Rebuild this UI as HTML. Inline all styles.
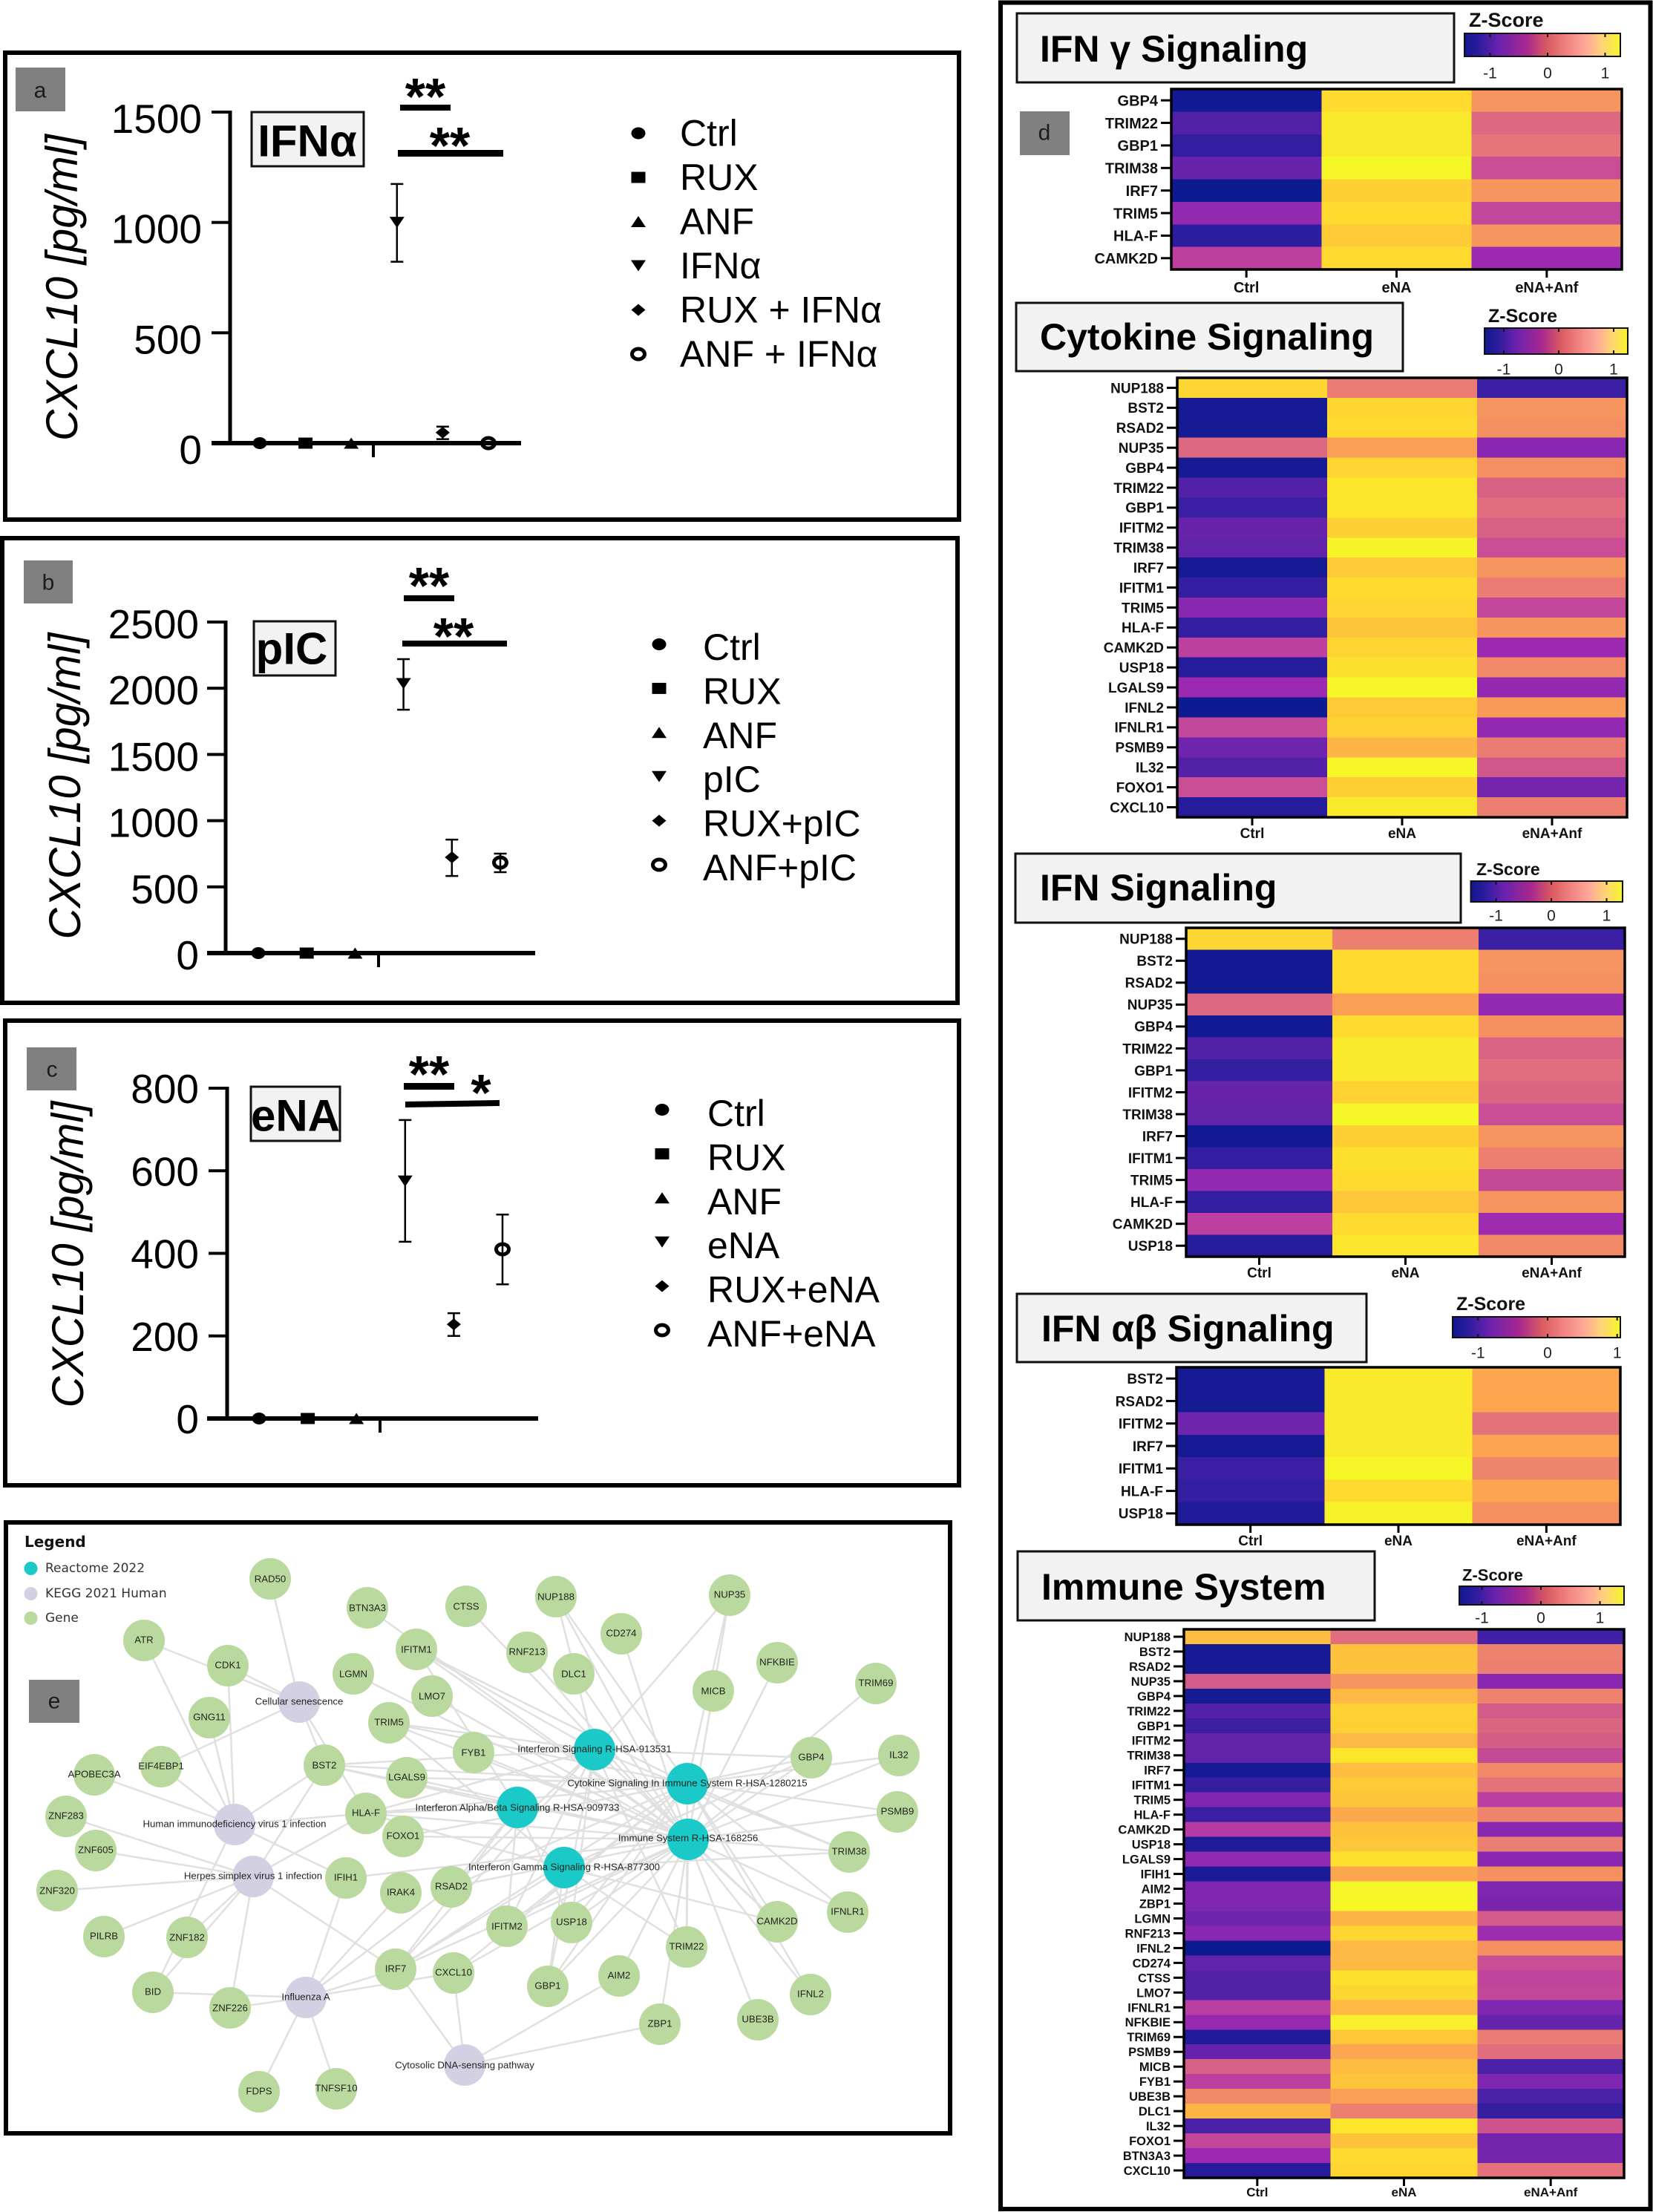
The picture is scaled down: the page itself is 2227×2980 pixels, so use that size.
<!DOCTYPE html>
<html lang="en">
<head>
<meta charset="utf-8">
<title>CXCL10 response, pathway heatmaps and enrichment network</title>
<style>
html,body{margin:0;padding:0;background:#fff;}
svg{display:block;font-family:"Liberation Sans",Arial,sans-serif;}
.frame{fill:none;stroke:#000;stroke-width:6;}
.letter-box{fill:#808080;}
.letter{font-size:30px;fill:#1c1c1c;text-anchor:middle;dominant-baseline:central;}
.title-box{fill:#f2f2f2;stroke:#111;stroke-width:3;}
.chart-title{font-size:60px;font-weight:bold;text-anchor:middle;dominant-baseline:central;fill:#000;}
.hm-title{font-weight:bold;fill:#000;font-size:50px;}
.stars{font-size:70px;font-weight:bold;text-anchor:middle;fill:#000;}
.zscore{font-weight:bold;font-size:26px;fill:#111;}
.gene circle{fill:#b9d99e;}
.kegg circle{fill:#d3d0e4;}
.reactome circle{fill:#1cc9c9;}
.node text{font-size:13.2px;fill:#1f241d;text-anchor:middle;dominant-baseline:central;}
.legend-text{font-family:"DejaVu Sans",sans-serif;font-size:17px;fill:#333;dominant-baseline:central;}
</style>
</head>
<body>
<svg id="figure" xmlns="http://www.w3.org/2000/svg" width="2227" height="2980" viewBox="0 0 2227 2980">
<defs>
<linearGradient id="zscore-gradient">
<stop offset="0" stop-color="#10198f"/>
<stop offset="0.1" stop-color="#2f1c9e"/>
<stop offset="0.22" stop-color="#6a22ae"/>
<stop offset="0.4" stop-color="#a8288f"/>
<stop offset="0.53" stop-color="#d85a60"/>
<stop offset="0.65" stop-color="#f08080"/>
<stop offset="0.78" stop-color="#ffa898"/>
<stop offset="0.88" stop-color="#ffd27a"/>
<stop offset="1" stop-color="#f5f52a"/>
</linearGradient>
</defs>
<rect x="0" y="0" width="2227" height="2980" fill="#fff"/>

<!-- Panel a -->
<g id="panel-a">
<rect class="frame" x="7" y="71" width="1285" height="629"/>
<rect class="letter-box" x="21" y="91" width="67" height="59"/>
<text class="letter" x="54" y="122">a</text>
<rect class="title-box" x="339" y="151" width="151" height="73"/>
<text class="chart-title" x="414" y="190">IFNα</text>
<rect x="539" y="141" width="68" height="8" fill="#000"/>
<rect x="536" y="202" width="142" height="9" fill="#000"/>
<text class="stars" x="573" y="154">**</text>
<text class="stars" x="606" y="220">**</text>
</g>

<!-- Panel b -->
<g id="panel-b">
<rect class="frame" x="3" y="725" width="1287" height="626"/>
<rect class="letter-box" x="32" y="755" width="66" height="58"/>
<text class="letter" x="65" y="785">b</text>
<rect class="title-box" x="342" y="837" width="110" height="73"/>
<text class="chart-title" x="393" y="874">pIC</text>
<rect x="544" y="802" width="68" height="8" fill="#000"/>
<rect x="542" y="863" width="141" height="8" fill="#000"/>
<text class="stars" x="578" y="813">**</text>
<text class="stars" x="611" y="881">**</text>
</g>

<!-- Panel c -->
<g id="panel-c">
<rect class="frame" x="7" y="1375" width="1285" height="626"/>
<rect class="letter-box" x="36" y="1411" width="67" height="58"/>
<text class="letter" x="70" y="1441">c</text>
<rect class="title-box" x="338" y="1464" width="120" height="73"/>
<text class="chart-title" x="398" y="1503">eNA</text>
<rect x="544" y="1459" width="68" height="9" fill="#000"/>
<polygon points="546,1484 673,1482 673,1490 546,1492" fill="#000"/>
<text class="stars" x="578" y="1471">**</text>
<text class="stars" x="648" y="1496">*</text>
</g>

<!-- Panel d -->
<g id="panel-d">
<rect class="frame" x="1348" y="3.5" width="875.5" height="2972.5"/>
<rect class="title-box" x="1370" y="18" width="589" height="93"/>
<text class="hm-title" x="1401" y="83" style="font-size:50px">IFN γ Signaling</text>
<rect class="letter-box" x="1374" y="150" width="67" height="59"/>
<text class="letter" x="1407" y="179">d</text>
<rect class="title-box" x="1369" y="408" width="521" height="92"/>
<text class="hm-title" x="1401" y="471">Cytokine Signaling</text>
<rect class="title-box" x="1368" y="1150" width="600" height="93"/>
<text class="hm-title" x="1401" y="1213">IFN Signaling</text>
<rect class="title-box" x="1370" y="1743" width="471" height="92"/>
<text class="hm-title" x="1403" y="1807">IFN αβ Signaling</text>
<rect class="title-box" x="1371" y="2090" width="481" height="93"/>
<text class="hm-title" x="1403" y="2155">Immune System</text>
</g>

<!-- Panel e -->
<g id="panel-e">
<rect class="frame" x="8" y="2051" width="1272" height="823"/>
<g id="network-edges" stroke="#e0e0e0" stroke-width="2.5"></g>
<g id="network-nodes">
<g class="node gene" data-key="RAD50"><circle cx="364" cy="2127" r="28"/><text x="364" y="2127">RAD50</text></g>
<g class="node gene" data-key="BTN3A3"><circle cx="495" cy="2166" r="28"/><text x="495" y="2166">BTN3A3</text></g>
<g class="node gene" data-key="CTSS"><circle cx="628" cy="2164" r="28"/><text x="628" y="2164">CTSS</text></g>
<g class="node gene" data-key="ATR"><circle cx="194" cy="2210" r="28"/><text x="194" y="2209">ATR</text></g>
<g class="node gene" data-key="CDK1"><circle cx="307" cy="2244" r="28"/><text x="307" y="2243">CDK1</text></g>
<g class="node gene" data-key="IFITM1"><circle cx="561" cy="2222" r="28"/><text x="561" y="2222">IFITM1</text></g>
<g class="node gene" data-key="LGMN"><circle cx="476" cy="2255" r="28"/><text x="476" y="2255">LGMN</text></g>
<g class="node gene" data-key="LMO7"><circle cx="582" cy="2285" r="28"/><text x="582" y="2285">LMO7</text></g>
<g class="node gene" data-key="GNG11"><circle cx="282" cy="2314" r="28"/><text x="282" y="2313">GNG11</text></g>
<g class="node gene" data-key="TRIM5"><circle cx="524" cy="2321" r="28"/><text x="524" y="2320">TRIM5</text></g>
<g class="node gene" data-key="FYB1"><circle cx="638" cy="2361" r="28"/><text x="638" y="2361">FYB1</text></g>
<g class="node gene" data-key="EIF4EBP1"><circle cx="217" cy="2380" r="28"/><text x="217" y="2379">EIF4EBP1</text></g>
<g class="node gene" data-key="BST2"><circle cx="437" cy="2378" r="28"/><text x="437" y="2378">BST2</text></g>
<g class="node gene" data-key="LGALS9"><circle cx="548" cy="2395" r="28"/><text x="548" y="2394">LGALS9</text></g>
<g class="node gene" data-key="APOBEC3A"><circle cx="127" cy="2391" r="28"/><text x="127" y="2390">APOBEC3A</text></g>
<g class="node gene" data-key="ZNF283"><circle cx="89" cy="2447" r="28"/><text x="89" y="2446">ZNF283</text></g>
<g class="node gene" data-key="ZNF605"><circle cx="129" cy="2493" r="28"/><text x="129" y="2492">ZNF605</text></g>
<g class="node gene" data-key="HLA-F"><circle cx="493" cy="2443" r="28"/><text x="493" y="2442">HLA-F</text></g>
<g class="node gene" data-key="FOXO1"><circle cx="543" cy="2474" r="28"/><text x="543" y="2473">FOXO1</text></g>
<g class="node gene" data-key="IFIH1"><circle cx="466" cy="2530" r="28"/><text x="466" y="2529">IFIH1</text></g>
<g class="node gene" data-key="IRAK4"><circle cx="540" cy="2550" r="28"/><text x="540" y="2549">IRAK4</text></g>
<g class="node gene" data-key="RSAD2"><circle cx="608" cy="2542" r="28"/><text x="608" y="2541">RSAD2</text></g>
<g class="node gene" data-key="ZNF320"><circle cx="77" cy="2547" r="28"/><text x="77" y="2547">ZNF320</text></g>
<g class="node gene" data-key="PILRB"><circle cx="140" cy="2609" r="28"/><text x="140" y="2608">PILRB</text></g>
<g class="node gene" data-key="ZNF182"><circle cx="252" cy="2610" r="28"/><text x="252" y="2610">ZNF182</text></g>
<g class="node gene" data-key="BID"><circle cx="206" cy="2684" r="28"/><text x="206" y="2683">BID</text></g>
<g class="node gene" data-key="ZNF226"><circle cx="310" cy="2705" r="28"/><text x="310" y="2705">ZNF226</text></g>
<g class="node gene" data-key="IRF7"><circle cx="533" cy="2653" r="28"/><text x="533" y="2652">IRF7</text></g>
<g class="node gene" data-key="CXCL10"><circle cx="611" cy="2658" r="28"/><text x="611" y="2657">CXCL10</text></g>
<g class="node gene" data-key="FDPS"><circle cx="349" cy="2818" r="28"/><text x="349" y="2817">FDPS</text></g>
<g class="node gene" data-key="TNFSF10"><circle cx="453" cy="2814" r="28"/><text x="453" y="2813">TNFSF10</text></g>
<g class="node gene" data-key="NUP188"><circle cx="749" cy="2151" r="28"/><text x="749" y="2151">NUP188</text></g>
<g class="node gene" data-key="NUP35"><circle cx="983" cy="2149" r="28"/><text x="983" y="2148">NUP35</text></g>
<g class="node gene" data-key="CD274"><circle cx="837" cy="2201" r="28"/><text x="837" y="2200">CD274</text></g>
<g class="node gene" data-key="RNF213"><circle cx="710" cy="2226" r="28"/><text x="710" y="2225">RNF213</text></g>
<g class="node gene" data-key="DLC1"><circle cx="773" cy="2255" r="28"/><text x="773" y="2255">DLC1</text></g>
<g class="node gene" data-key="NFKBIE"><circle cx="1047" cy="2240" r="28"/><text x="1047" y="2239">NFKBIE</text></g>
<g class="node gene" data-key="MICB"><circle cx="961" cy="2278" r="28"/><text x="961" y="2278">MICB</text></g>
<g class="node gene" data-key="TRIM69"><circle cx="1180" cy="2268" r="28"/><text x="1180" y="2267">TRIM69</text></g>
<g class="node gene" data-key="GBP4"><circle cx="1093" cy="2368" r="28"/><text x="1093" y="2367">GBP4</text></g>
<g class="node gene" data-key="IL32"><circle cx="1211" cy="2365" r="28"/><text x="1211" y="2364">IL32</text></g>
<g class="node gene" data-key="PSMB9"><circle cx="1209" cy="2441" r="28"/><text x="1209" y="2440">PSMB9</text></g>
<g class="node gene" data-key="TRIM38"><circle cx="1144" cy="2495" r="28"/><text x="1144" y="2494">TRIM38</text></g>
<g class="node gene" data-key="IFNLR1"><circle cx="1142" cy="2576" r="28"/><text x="1142" y="2575">IFNLR1</text></g>
<g class="node gene" data-key="CAMK2D"><circle cx="1047" cy="2589" r="28"/><text x="1047" y="2588">CAMK2D</text></g>
<g class="node gene" data-key="IFITM2"><circle cx="683" cy="2595" r="28"/><text x="683" y="2595">IFITM2</text></g>
<g class="node gene" data-key="USP18"><circle cx="770" cy="2590" r="28"/><text x="770" y="2589">USP18</text></g>
<g class="node gene" data-key="TRIM22"><circle cx="925" cy="2623" r="28"/><text x="925" y="2622">TRIM22</text></g>
<g class="node gene" data-key="AIM2"><circle cx="834" cy="2662" r="28"/><text x="834" y="2661">AIM2</text></g>
<g class="node gene" data-key="GBP1"><circle cx="738" cy="2676" r="28"/><text x="738" y="2675">GBP1</text></g>
<g class="node gene" data-key="ZBP1"><circle cx="889" cy="2727" r="28"/><text x="889" y="2726">ZBP1</text></g>
<g class="node gene" data-key="UBE3B"><circle cx="1021" cy="2721" r="28"/><text x="1021" y="2720">UBE3B</text></g>
<g class="node gene" data-key="IFNL2"><circle cx="1092" cy="2687" r="28"/><text x="1092" y="2686">IFNL2</text></g>
<g class="node kegg" data-key="Cellular senescence"><circle cx="403" cy="2293" r="28"/><text x="403" y="2292">Cellular senescence</text></g>
<g class="node kegg" data-key="HIV"><circle cx="316" cy="2458" r="28"/><text x="316" y="2457">Human immunodeficiency virus 1 infection</text></g>
<g class="node kegg" data-key="Herpes"><circle cx="341" cy="2528" r="28"/><text x="341" y="2527">Herpes simplex virus 1 infection</text></g>
<g class="node kegg" data-key="Influenza"><circle cx="412" cy="2691" r="28"/><text x="412" y="2690">Influenza A</text></g>
<g class="node kegg" data-key="Cytosolic"><circle cx="626" cy="2782" r="28"/><text x="626" y="2782">Cytosolic DNA-sensing pathway</text></g>
<g class="node reactome" data-key="IFN"><circle cx="801" cy="2357" r="28"/><text x="801" y="2356">Interferon Signaling R-HSA-913531</text></g>
<g class="node reactome" data-key="Cytokine"><circle cx="926" cy="2403" r="28"/><text x="926" y="2402">Cytokine Signaling In Immune System R-HSA-1280215</text></g>
<g class="node reactome" data-key="AlphaBeta"><circle cx="697" cy="2435" r="28"/><text x="697" y="2435">Interferon Alpha/Beta Signaling R-HSA-909733</text></g>
<g class="node reactome" data-key="Immune"><circle cx="927" cy="2478" r="28"/><text x="927" y="2476">Immune System R-HSA-168256</text></g>
<g class="node reactome" data-key="Gamma"><circle cx="760" cy="2516" r="28"/><text x="760" y="2515">Interferon Gamma Signaling R-HSA-877300</text></g>
</g>
<text x="33" y="2084" style="font-family:'DejaVu Sans',sans-serif;font-weight:bold;font-size:20px;fill:#111">Legend</text>
<circle cx="41.5" cy="2113" r="9" fill="#1cc9c9"/>
<text class="legend-text" x="61" y="2113">Reactome 2022</text>
<circle cx="41.5" cy="2147" r="9" fill="#d3d0e4"/>
<text class="legend-text" x="61" y="2147">KEGG 2021 Human</text>
<circle cx="41.5" cy="2180" r="9" fill="#b9d99e"/>
<text class="legend-text" x="61" y="2180">Gene</text>
<rect class="letter-box" x="39" y="2263" width="68" height="58"/>
<text class="letter" x="73" y="2292">e</text>
</g>
</svg>

<script>
// ---- Scatter chart data ----
const ifnaCategories = ['Ctrl', 'RUX', 'ANF', 'IFNα', 'RUX + IFNα', 'ANF + IFNα'];
const ifnaMeans = [0, 0, 0, 1000, 48, 0];
const ifnaLows = [0, 0, 0, 822, 18, 0];
const ifnaHighs = [0, 0, 0, 1174, 75, 0];
const ifnaTicks = [0, 500, 1000, 1500];

const picCategories = ['Ctrl', 'RUX', 'ANF', 'pIC', 'RUX+pIC', 'ANF+pIC'];
const picMeans = [0, 0, 0, 2035, 723, 684];
const picLows = [0, 0, 0, 1838, 582, 611];
const picHighs = [0, 0, 0, 2220, 857, 751];
const picTicks = [0, 500, 1000, 1500, 2000, 2500];

const enaCategories = ['Ctrl', 'RUX', 'ANF', 'eNA', 'RUX+eNA', 'ANF+eNA'];
const enaMeans = [0, 0, 0, 575, 228, 410];
const enaLows = [0, 0, 0, 428, 200, 325];
const enaHighs = [0, 0, 0, 723, 255, 494];
const enaTicks = [0, 200, 400, 600, 800];

// ---- Heatmap data (z-scores: Ctrl, eNA, eNA+Anf) ----
const conditions = ['Ctrl', 'eNA', 'eNA+Anf'];
const colorbarTicks = [-1, 0, 1];

const gammaGenes = ['GBP4','TRIM22','GBP1','TRIM38','IRF7','TRIM5','HLA-F','CAMK2D'];
const gammaCtrl = [-1.35,-0.85,-1.05,-0.7,-1.4,-0.45,-1.1,-0.2];
const gammaEna = [1.0,1.15,1.15,1.3,0.9,1.0,0.85,1.0];
const gammaAnf = [0.45,0.1,0.2,-0.1,0.45,-0.15,0.45,-0.4];

const cytokineGenes = ['NUP188','BST2','RSAD2','NUP35','GBP4','TRIM22','GBP1','IFITM2','TRIM38','IRF7','IFITM1','TRIM5','HLA-F','CAMK2D','USP18','LGALS9','IFNL2','IFNLR1','PSMB9','IL32','FOXO1','CXCL10'];
const cytokineCtrl = [0.95,-1.3,-1.3,0.1,-1.3,-0.85,-1.0,-0.7,-0.75,-1.3,-1.05,-0.5,-1.05,-0.2,-1.15,-0.4,-1.4,-0.15,-0.65,-0.85,-0.1,-1.15];
const cytokineEna = [0.25,0.95,1.0,0.55,0.95,1.1,1.1,0.9,1.25,0.85,1.0,0.95,0.8,0.95,1.05,1.3,0.85,0.92,0.7,1.3,0.9,1.15];
const cytokineAnf = [-1.0,0.45,0.4,-0.5,0.4,0.05,0.15,0.05,-0.1,0.45,0.25,-0.15,0.45,-0.4,0.35,-0.45,0.5,-0.45,0.25,-0.02,-0.6,0.28];

const ifnGenes = ['NUP188','BST2','RSAD2','NUP35','GBP4','TRIM22','GBP1','IFITM2','TRIM38','IRF7','IFITM1','TRIM5','HLA-F','CAMK2D','USP18'];
const ifnCtrl = [0.95,-1.35,-1.35,0.1,-1.35,-0.85,-1.05,-0.7,-0.75,-1.35,-1.05,-0.45,-1.05,-0.2,-1.15];
const ifnEna = [0.28,1.0,1.0,0.55,1.0,1.15,1.15,0.92,1.3,0.9,1.05,1.0,0.82,1.0,1.1];
const ifnAnf = [-1.0,0.45,0.42,-0.45,0.42,0.07,0.15,0.08,-0.1,0.45,0.28,-0.12,0.45,-0.38,0.35];

const alphaBetaGenes = ['BST2','RSAD2','IFITM2','IRF7','IFITM1','HLA-F','USP18'];
const alphaBetaCtrl = [-1.3,-1.3,-0.65,-1.3,-1.0,-1.05,-1.2];
const alphaBetaEna = [1.15,1.15,1.15,1.15,1.28,1.0,1.25];
const alphaBetaAnf = [0.6,0.6,0.18,0.58,0.32,0.58,0.42];

const immuneGenes = ['NUP188','BST2','RSAD2','NUP35','GBP4','TRIM22','GBP1','IFITM2','TRIM38','IRF7','IFITM1','TRIM5','HLA-F','CAMK2D','USP18','LGALS9','IFIH1','AIM2','ZBP1','LGMN','RNF213','IFNL2','CD274','CTSS','LMO7','IFNLR1','NFKBIE','TRIM69','PSMB9','MICB','FYB1','UBE3B','DLC1','IL32','FOXO1','BTN3A3','CXCL10'];
const immuneCtrl = [0.75,-1.3,-1.3,0.0,-1.3,-0.85,-0.98,-0.75,-0.75,-1.3,-1.05,-0.55,-1.0,-0.25,-1.2,-0.45,-1.25,-0.55,-0.55,-0.65,-0.5,-1.4,-0.75,-0.85,-0.85,-0.22,-0.42,-1.2,-0.7,0.05,-0.2,0.35,0.7,-0.9,-0.15,-0.4,-1.15];
const immuneEna = [0.15,0.78,0.78,0.45,0.72,0.92,0.9,0.72,1.1,0.75,0.85,0.8,0.62,0.78,0.82,1.05,0.6,1.28,1.3,0.7,0.95,0.72,0.72,1.05,0.95,0.72,1.2,0.82,0.6,0.75,0.8,0.55,0.28,1.1,0.78,1.0,0.95];
const immuneAnf = [-0.95,0.3,0.28,-0.5,0.3,0.0,0.08,0.03,-0.12,0.35,0.18,-0.22,0.32,-0.5,0.27,-0.5,0.42,-0.55,-0.58,0.0,-0.38,0.4,-0.1,-0.18,-0.15,-0.55,-0.72,0.25,0.15,-0.9,-0.55,-0.9,-1.05,-0.05,-0.6,-0.6,0.18];

// ---- Network membership (edges are drawn between named nodes) ----
const senescenceGenes = ['RAD50','CDK1','ATR','EIF4EBP1','BST2','HLA-F'];
const hivGenes = ['ATR','CDK1','GNG11','EIF4EBP1','APOBEC3A','BST2','HLA-F','BID','IFIH1'];
const herpesGenes = ['ZNF283','ZNF605','ZNF320','PILRB','ZNF182','ZNF226','BID','IRF7','HLA-F','BST2'];
const influenzaGenes = ['BID','ZNF226','IFIH1','IRAK4','RSAD2','IRF7','CXCL10','FDPS','TNFSF10'];
const cytosolicGenes = ['IRF7','CXCL10','AIM2','ZBP1'];

// ---- Rendering helpers ----
const NS = 'http://www.w3.org/2000/svg';
const figure = document.getElementById('figure');

function make(parent, tag, attrs, text) {
  const node = document.createElementNS(NS, tag);
  for (const key in attrs) node.setAttribute(key, attrs[key]);
  if (text !== undefined) node.textContent = text;
  parent.appendChild(node);
  return node;
}
function slug(s) {
  return String(s).toLowerCase().replace(/α/g, 'alpha').replace(/[^a-z0-9]+/g, '-').replace(/^-|-$/g, '');
}

// ---- Scatter marks ----
function drawMarker(parent, kind, x, y) {
  if (kind === 0) return make(parent, 'ellipse', {cx: x, cy: y, rx: 9.5, ry: 8, fill: '#000'});
  if (kind === 1) return make(parent, 'rect', {x: x - 9.5, y: y - 7.5, width: 19, height: 15, fill: '#000'});
  if (kind === 2) return make(parent, 'polygon', {points: (x - 10) + ',' + (y + 7.5) + ' ' + (x + 10) + ',' + (y + 7.5) + ' ' + x + ',' + (y - 7.5), fill: '#000'});
  if (kind === 3) return make(parent, 'polygon', {points: (x - 10) + ',' + (y - 7.5) + ' ' + (x + 10) + ',' + (y - 7.5) + ' ' + x + ',' + (y + 7.5), fill: '#000'});
  if (kind === 4) return make(parent, 'polygon', {points: (x - 9.5) + ',' + y + ' ' + x + ',' + (y - 8) + ' ' + (x + 9.5) + ',' + y + ' ' + x + ',' + (y + 8), fill: '#000'});
  return make(parent, 'ellipse', {cx: x, cy: y, rx: 8.5, ry: 7, fill: 'none', stroke: '#000', 'stroke-width': 5});
}

function drawScatter(host, prefix, box, categories, means, lows, highs, ticks) {
  const yMax = ticks[ticks.length - 1];
  const yScale = function (v) { return box.y0 - (v / yMax) * (box.y0 - box.yTop); };
  const xScale = function (i) { return box.first + i * box.step; };
  const chart = make(host, 'g', {});
  
  

  const title = make(chart, 'text', {
    x: 0, y: 0,
    transform: 'translate(' + box.titleX + ',' + box.titleY + ') rotate(-90)',
    'font-size': 60, 'font-style': 'italic', 'text-anchor': 'middle',
    textLength: 413, lengthAdjust: 'spacingAndGlyphs', fill: '#000'
  }, 'CXCL10 [pg/ml]');
  
  

  const yAxis = make(chart, 'rect', {x: box.axisX - 2.5, y: yScale(yMax) - 2, width: 5, height: box.y0 - yScale(yMax) + 2, fill: '#000'});
  
  

  ticks.forEach(function (t) {
    const y = yScale(t);
    if (t !== 0) {
      const tick = make(chart, 'rect', {x: box.axisX - 25, y: y - 2, width: 25, height: 4, fill: '#000'});
      
      
    }
    const label = make(chart, 'text', {x: box.labelX, y: y + box.labelDy + 20, 'font-size': 55, 'text-anchor': 'end', fill: '#000'}, t);
    
    
  });

  const xAxis = make(chart, 'rect', {x: box.xStart, y: box.y0 - 3, width: box.xEnd - box.xStart, height: 6, fill: '#000'});
  
  

  const breakTick = make(chart, 'rect', {x: box.breakX - 2, y: box.y0, width: 4, height: 19, fill: '#000'});
  
  

  categories.forEach(function (cat, i) {
    const x = xScale(i);
    const point = make(chart, 'g', {});
    
    
    if (highs[i] > lows[i]) {
      make(point, 'line', {x1: x, x2: x, y1: yScale(lows[i]), y2: yScale(highs[i]), stroke: '#000', 'stroke-width': 2.5});
      make(point, 'line', {x1: x - 8.5, x2: x + 8.5, y1: yScale(lows[i]), y2: yScale(lows[i]), stroke: '#000', 'stroke-width': 2.5});
      make(point, 'line', {x1: x - 8.5, x2: x + 8.5, y1: yScale(highs[i]), y2: yScale(highs[i]), stroke: '#000', 'stroke-width': 2.5});
    }
    drawMarker(point, i, x, yScale(means[i]));

    const legendY = box.legendY + i * box.legendStep;
    const entry = make(chart, 'g', {});
    
    
    drawMarker(entry, i, box.legendMarkerX, legendY);
    make(entry, 'text', {x: box.legendTextX, y: legendY + box.legendDy + 18, 'font-size': 50, fill: '#000'}, cat);
  });
}

drawScatter(document.getElementById('panel-a'), 'ifna',
  {axisX: 310, y0: 597, yTop: 151, xStart: 285, xEnd: 702, first: 350, step: 61.6, breakX: 503, labelX: 272, labelDy: 8, titleX: 104, titleY: 387.5, legendMarkerX: 860, legendTextX: 916, legendY: 179.5, legendStep: 59.5, legendDy: -1},
  ifnaCategories, ifnaMeans, ifnaLows, ifnaHighs, ifnaTicks);
drawScatter(document.getElementById('panel-b'), 'pic',
  {axisX: 304, y0: 1284, yTop: 838, xStart: 279, xEnd: 721, first: 348, step: 65.2, breakX: 510, labelX: 268, labelDy: 2, titleX: 108, titleY: 1059, legendMarkerX: 888, legendTextX: 947, legendY: 868, legendStep: 59.4, legendDy: 3},
  picCategories, picMeans, picLows, picHighs, picTicks);
drawScatter(document.getElementById('panel-c'), 'ena',
  {axisX: 306, y0: 1911, yTop: 1466, xStart: 279, xEnd: 725, first: 349, step: 65.6, breakX: 512, labelX: 268, labelDy: 0, titleX: 112, titleY: 1690, legendMarkerX: 892, legendTextX: 953, legendY: 1495, legendStep: 59.4, legendDy: 4},
  enaCategories, enaMeans, enaLows, enaHighs, enaTicks);

// ---- Heatmap colour scale ----
const colorStops = [
  [-1.4,'#0d1a90'],[-1.2,'#1f1b98'],[-1.0,'#3a1fa3'],[-0.8,'#5a22a9'],[-0.6,'#7524ae'],
  [-0.4,'#9b2ab0'],[-0.2,'#bd3f9f'],[0.0,'#d25a88'],[0.2,'#e6757a'],[0.4,'#f48f62'],
  [0.6,'#fca650'],[0.8,'#fec53a'],[1.0,'#fedb2e'],[1.2,'#f7f02a'],[1.35,'#f4fb25']
];
function hexToRgb(h) {
  return [parseInt(h.slice(1, 3), 16), parseInt(h.slice(3, 5), 16), parseInt(h.slice(5, 7), 16)];
}
function zColor(z) {
  if (z <= colorStops[0][0]) return colorStops[0][1];
  for (let i = 1; i < colorStops.length; i++) {
    if (z <= colorStops[i][0]) {
      const a = hexToRgb(colorStops[i - 1][1]);
      const b = hexToRgb(colorStops[i][1]);
      const f = (z - colorStops[i - 1][0]) / (colorStops[i][0] - colorStops[i - 1][0]);
      return 'rgb(' + a.map(function (v, k) { return Math.round(v + (b[k] - v) * f); }).join(',') + ')';
    }
  }
  return colorStops[colorStops.length - 1][1];
}

function drawHeatmap(prefix, box, genes, columns) {
  const host = document.getElementById('panel-d');
  const chart = make(host, 'g', {});
  
  
  const colW = box.w / conditions.length;
  const rowH = box.h / genes.length;

  genes.forEach(function (gene, r) {
    const cy = box.y + rowH * (r + 0.5);
    conditions.forEach(function (cond, c) {
      const cell = make(chart, 'rect', {
        x: box.x + c * colW, y: box.y + r * rowH,
        width: colW + 0.6, height: rowH + 0.6,
        fill: zColor(columns[c][r]), 'shape-rendering': 'crispEdges'
      });
      
      
    });
    const tick = make(chart, 'rect', {x: box.x - 14, y: cy - 1.5, width: 14, height: 3, fill: '#000'});
    
    
    const label = make(chart, 'text', {x: box.x - 18, y: cy + box.font * 0.36, 'font-size': box.font, 'font-weight': 'bold', 'text-anchor': 'end', fill: '#111'}, gene);
    
    
  });

  const border = make(chart, 'rect', {x: box.x, y: box.y, width: box.w, height: box.h, fill: 'none', stroke: '#000', 'stroke-width': 3.5});
  
  

  conditions.forEach(function (cond, c) {
    const cx = box.x + colW * (c + 0.5);
    const tick = make(chart, 'rect', {x: cx - 1.5, y: box.y + box.h, width: 3, height: 11, fill: '#000'});
    
    
    const label = make(chart, 'text', {x: cx, y: box.y + box.h + box.labelGap + box.colFont * 0.36, 'font-size': box.colFont, 'font-weight': 'bold', 'text-anchor': 'middle', fill: '#111'}, cond);
    
    
  });

  // colour bar
  const zTitle = make(chart, 'text', {x: box.barTitleX, y: box.barTitleY, 'font-size': box.barTitleFont, 'font-weight': 'bold', 'dominant-baseline': 'central', fill: '#111'}, 'Z-Score');
  
  
  const bar = make(chart, 'rect', {x: box.barX, y: box.barY, width: box.barW, height: box.barH, fill: 'url(#zscore-gradient)', stroke: '#111', 'stroke-width': 2});
  
  
  const barScale = function (z) { return box.barZero + z * box.barUnit; };
  colorbarTicks.forEach(function (t) {
    const x = barScale(t);
    make(chart, 'rect', {x: x - 1, y: box.barY, width: 2, height: 5, fill: '#111'});
    make(chart, 'rect', {x: x - 1, y: box.barY + box.barH - 5, width: 2, height: 5, fill: '#111'});
    const label = make(chart, 'text', {x: x, y: box.barLabelY + 7.5, 'font-size': 21, 'text-anchor': 'middle', fill: '#222'}, t);
    
    
  });
}

drawHeatmap('ifn-gamma',
  {x: 1578, y: 120, w: 607, h: 243, font: 20, colFont: 20, labelGap: 24, barX: 1973, barY: 45, barW: 210, barH: 31, barZero: 2085, barUnit: 77.5, barLabelY: 98, barTitleX: 1979, barTitleY: 27, barTitleFont: 27},
  gammaGenes, [gammaCtrl, gammaEna, gammaAnf]);
drawHeatmap('cytokine',
  {x: 1586, y: 509, w: 606, h: 592, font: 19, colFont: 19, labelGap: 21, barX: 2000, barY: 442, barW: 193, barH: 35, barZero: 2100, barUnit: 74, barLabelY: 497, barTitleX: 2005, barTitleY: 426, barTitleFont: 25},
  cytokineGenes, [cytokineCtrl, cytokineEna, cytokineAnf]);
drawHeatmap('ifn-signaling',
  {x: 1598, y: 1250, w: 591, h: 443, font: 19, colFont: 19, labelGap: 21, barX: 1981.5, barY: 1187, barW: 204.5, barH: 28, barZero: 2090, barUnit: 74.5, barLabelY: 1233, barTitleX: 1989, barTitleY: 1171, barTitleFont: 23},
  ifnGenes, [ifnCtrl, ifnEna, ifnAnf]);
drawHeatmap('ifn-alpha-beta',
  {x: 1585, y: 1842, w: 598, h: 212, font: 19, colFont: 19, labelGap: 21, barX: 1957, barY: 1774, barW: 226, barH: 28, barZero: 2085, barUnit: 93.7, barLabelY: 1822, barTitleX: 1962, barTitleY: 1757, barTitleFont: 25},
  alphaBetaGenes, [alphaBetaCtrl, alphaBetaEna, alphaBetaAnf]);
drawHeatmap('immune-system',
  {x: 1595, y: 2195, w: 593, h: 739, font: 16.5, colFont: 17, labelGap: 19, barX: 1966, barY: 2137, barW: 222, barH: 25, barZero: 2076, barUnit: 79.5, barLabelY: 2179, barTitleX: 1970, barTitleY: 2122, barTitleFont: 22},
  immuneGenes, [immuneCtrl, immuneEna, immuneAnf]);

// ---- Network edges, looked up from node positions in the markup ----
const nodeCenters = {};
document.querySelectorAll('#network-nodes .node').forEach(function (g) {
  const c = g.querySelector('circle');
  nodeCenters[g.getAttribute('data-key')] = [Number(c.getAttribute('cx')), Number(c.getAttribute('cy'))];
});
const edgeLayer = document.getElementById('network-edges');
function connect(pathway, genes) {
  genes.forEach(function (gene) {
    const a = nodeCenters[pathway];
    const b = nodeCenters[gene];
    if (!a || !b) return;
    const edge = make(edgeLayer, 'line', {x1: a[0], y1: a[1], x2: b[0], y2: b[1]});
    
    
  });
}
connect('Gamma', gammaGenes);
connect('Cytokine', cytokineGenes);
connect('IFN', ifnGenes);
connect('AlphaBeta', alphaBetaGenes);
connect('Immune', immuneGenes);
connect('Cellular senescence', senescenceGenes);
connect('HIV', hivGenes);
connect('Herpes', herpesGenes);
connect('Influenza', influenzaGenes);
connect('Cytosolic', cytosolicGenes);
</script>
</body>
</html>
